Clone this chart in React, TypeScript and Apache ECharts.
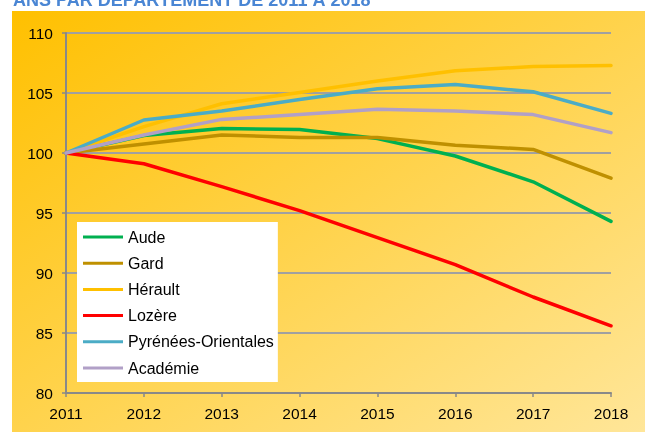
import React, { useEffect, useRef } from "react";
import * as echarts from "echarts";

const years = ["2011", "2012", "2013", "2014", "2015", "2016", "2017", "2018"];
const aude = [100, 101.45, 102.05, 101.95, 101.2, 99.75, 97.6, 94.3];
const gard = [100, 100.75, 101.5, 101.3, 101.3, 100.65, 100.3, 97.9];
const herault = [100, 102.2, 104.1, 105.05, 106.0, 106.85, 107.2, 107.3];
const lozere = [100, 99.1, 97.2, 95.2, 92.95, 90.7, 88.0, 85.6];
const pyrenees = [100, 102.75, 103.5, 104.45, 105.35, 105.7, 105.1, 103.3];
const academie = [100, 101.5, 102.8, 103.2, 103.65, 103.5, 103.2, 101.7];

const seriesNames = ["Aude", "Gard", "Hérault", "Lozère", "Pyrénées-Orientales", "Académie"];
const seriesColors = ["#00B050", "#BF9000", "#FFC000", "#FF0000", "#4BACC6", "#B1A0C7"];
const seriesData = [aude, gard, herault, lozere, pyrenees, academie];
const titleText = "ANS PAR DÉPARTEMENT DE 2011 À 2018";

export default function App() {
  const ref = useRef<HTMLDivElement>(null);
  useEffect(() => {
    if (!ref.current) return;
    const chart = echarts.init(ref.current, undefined, { renderer: "svg" });
    const font = "'Liberation Sans', Arial, sans-serif";
    chart.setOption({
      animation: false,
      textStyle: { fontFamily: font },
      graphic: [
        {
          type: "rect",
          z: -10,
          silent: true,
          shape: { x: 12, y: 11, width: 633, height: 421 },
          style: {
            fill: new echarts.graphic.LinearGradient(0, 0, 1, 1, [
              { offset: 0, color: "#FFC000" },
              { offset: 1, color: "#FFE699" },
            ]),
          },
        },
        {
          type: "text",
          x: 13,
          y: 0,
          style: {
            text: titleText,
            fill: "#4A86D4",
            font: `bold 18px ${font}`,
            textVerticalAlign: "middle",
          },
        },
      ],
      grid: { left: 66, right: 34, top: 33, bottom: 39, containLabel: false },
      legend: {
        show: true,
        orient: "vertical",
        left: 77,
        top: 222,
        backgroundColor: "#FFFFFF",
        padding: [7, 4, 6, 6],
        itemWidth: 40,
        itemHeight: 3,
        itemGap: 10.2,
        icon: "rect",
        textStyle: { fontSize: 16, color: "#000", lineHeight: 16, fontFamily: font },
        data: seriesNames,
      },
      xAxis: {
        type: "category",
        data: years,
        boundaryGap: false,
        axisLine: { lineStyle: { color: "#898989", width: 2 } },
        axisTick: { show: true, length: 4, lineStyle: { color: "#898989", width: 1.5 } },
        axisLabel: { color: "#000", fontSize: 15.5, margin: 12, fontFamily: font },
        splitLine: { show: false },
      },
      yAxis: {
        type: "value",
        min: 80,
        max: 110,
        interval: 5,
        axisLine: { show: true, lineStyle: { color: "#898989", width: 2 } },
        axisTick: { show: true, length: 4, lineStyle: { color: "#898989", width: 1.5 } },
        axisLabel: { color: "#000", fontSize: 15.5, margin: 13, fontFamily: font },
        splitLine: { show: true, lineStyle: { color: "#A0A0A0", width: 2 } },
      },
      series: seriesNames.map((name, i) => ({
        name,
        type: "line",
        data: seriesData[i],
        showSymbol: false,
        symbol: "none",
        color: seriesColors[i],
        lineStyle: { color: seriesColors[i], width: 3.5, cap: "round", join: "round" },
      })),
    });
    return () => chart.dispose();
  }, []);
  return (
    <div
      ref={ref}
      style={{ position: "fixed", left: 0, top: 0, width: 645, height: 432 }}
    />
  );
}
